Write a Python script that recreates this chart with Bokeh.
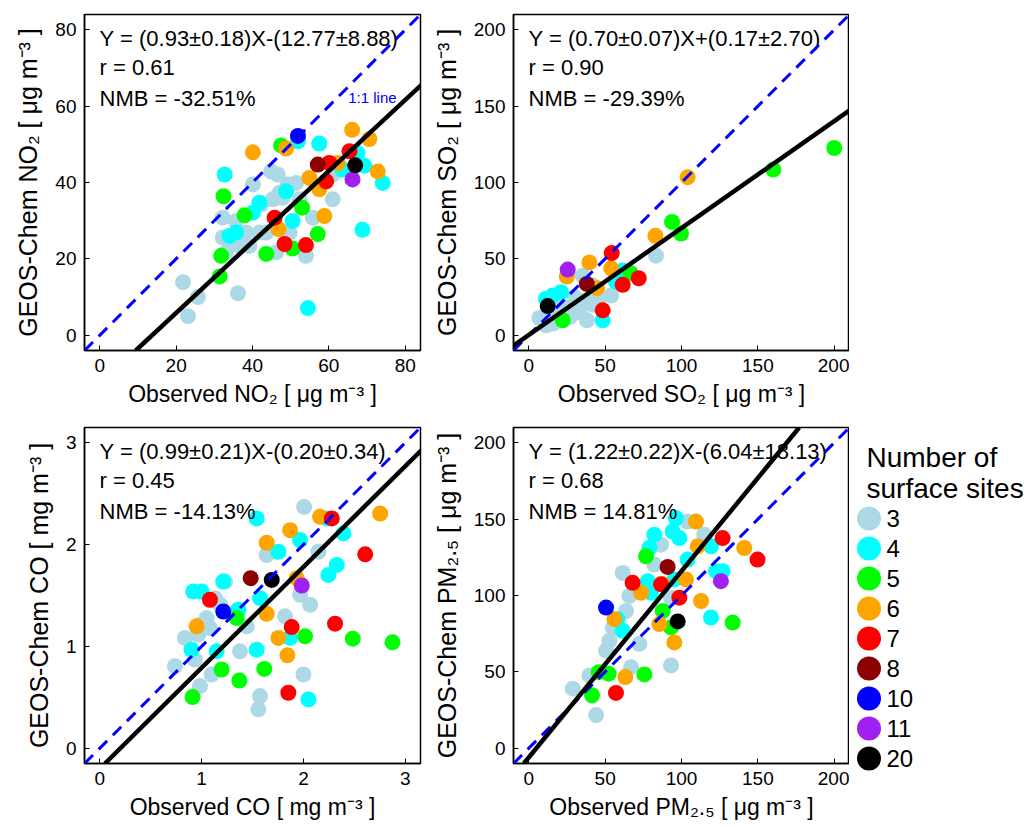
from bokeh.plotting import figure
from bokeh.models import Range1d, Slope, FixedTicker
from bokeh.layouts import row, column
from bokeh.embed import file_html
from bokeh.resources import INLINE
from bokeh.core.properties import value

FONT = "Liberation Sans"

# ---------------- legend categories ----------------
site_levels = [3, 4, 5, 6, 7, 8, 10, 11, 20]
site_colors = ["#ADD8E6", "#00FFFF", "#00FF00", "#FFA500", "#FF0000",
               "#8B0000", "#0000FF", "#A020F0", "#000000"]

# ---------------- NO2 (ug m-3) ----------------
no2_obs = [21.8, 25.7, 23.1, 36.2, 32.2, 33.1, 32.2, 35.7, 38.3, 39.2, 42.3, 43.6, 45.3, 46.2, 47.1,
           49.2, 51.4, 49.7, 54.0, 55.8, 61.0, 40.1, 44.9, 46.6, 61.0, 41.8, 36.6, 34.4, 47.9, 52.3,
           32.7, 51.9, 57.5, 67.5, 69.3, 63.6, 74.1, 68.8, 54.5, 50.5, 41.8, 40.1, 35.7, 48.8, 34.0,
           32.4, 47.5, 37.9, 53.0, 31.8, 31.4, 43.6, 50.5, 57.1,
           66.1, 70.6, 40.1, 48.8, 54.9, 57.5, 58.8, 46.8, 72.8, 62.3,
           65.4, 60.1, 45.8, 48.4, 54.0, 59.3,
           57.1, 51.9, 66.2, 66.9]
no2_mod = [13.9, 10.0, 5.0, 11.0, 25.6, 21.7, 30.8, 29.9, 26.9, 23.4, 34.3, 26.9, 35.6, 21.7, 37.3,
           39.5, 39.9, 26.9, 20.8, 30.8, 35.6, 39.5, 42.9, 42.1, 42.1, 26.9, 23.4, 25.2, 36.0, 35.6,
           42.1, 50.8, 50.2, 47.7, 44.4, 43.4, 39.9, 27.6, 7.1, 29.9, 34.7, 32.1, 26.9, 37.7, 26.0,
           36.4, 49.7, 31.4, 33.4, 20.8, 15.4, 21.3, 22.7, 26.5,
           53.8, 51.4, 47.9, 48.9, 41.2, 38.2, 31.2, 27.8, 42.9, 45.1,
           48.2, 45.1, 30.8, 23.9, 23.6, 40.3,
           44.7, 52.2, 40.8, 44.5]
no2_site = [3] * 30 + [4] * 15 + [5] * 9 + [6] * 10 + [7] * 6 + [8, 10, 11, 20]

# ---------------- SO2 (ug m-3) ----------------
so2_obs = [83.3, 7.0, 15.7, 28.8, 37.5, 33.2, 38.0, 53.9, 46.2, 35.3, 24.4, 41.9, 20.1, 11.3,
           30.0, 42.0, 18.0, 27.0,
           15.7, 21.2, 57.1, 61.5, 48.4, 11.3,
           200.0, 160.1, 93.8, 99.7, 66.5, 22.2,
           104.0, 82.9, 39.7, 53.9, 24.9, 44.7,
           54.3, 72.0, 61.5, 48.4,
           38.0, 25.5, 12.4]
so2_mod = [52.1, 11.3, 7.6, 16.3, 22.8, 15.2, 9.8, 26.0, 24.9, 39.0, 18.4, 32.5, 14.1, 6.5,
           25.0, 20.0, 20.0, 12.0,
           26.0, 28.2, 35.1, 42.3, 9.8, 23.9,
           122.6, 108.5, 74.2, 66.6, 40.8, 9.8,
           103.5, 65.1, 47.7, 43.8, 38.4, 30.8,
           53.8, 37.3, 33.0, 16.3,
           33.6, 43.0, 19.1]
so2_site = [3] * 18 + [4] * 6 + [5] * 6 + [6] * 6 + [7] * 4 + [8, 11, 20]

# ---------------- CO (mg m-3) ----------------
co_obs = [2.007, 1.639, 2.148, 1.230, 1.131, 1.967, 2.066, 1.820, 1.443, 1.180, 1.082, 0.967,
          0.836, 0.738, 0.934, 1.098, 0.984, 1.377, 2.000, 1.574, 1.557, 0.984, 1.049,
          1.541, 0.918, 1.000, 1.754, 1.967, 2.230, 2.393, 2.328, 2.246, 1.574, 1.361, 1.869,
          1.541, 1.148, 0.902, 2.049, 1.213,
          1.344, 2.016, 2.485, 2.875, 1.197, 1.371, 1.616, 0.911,
          2.164, 2.754, 1.869, 1.639, 1.934, 1.639, 1.754, 1.843, 0.951,
          2.279, 2.607, 2.311, 1.885, 1.852, 1.082,
          1.482, 1.213, 1.984, 1.689]
co_mod = [2.370, 1.898, 1.930, 1.637, 1.474, 1.507, 1.409, 1.295, 1.197, 1.409, 1.180, 1.115,
          1.083, 0.805, 0.871, 0.724, 0.610, 0.952, 0.724, 0.512, 0.382, 1.213, 1.278,
          2.257, 1.539, 1.539, 1.930, 2.045, 2.257, 2.110, 1.800, 1.702, 1.474, 1.360, 1.083,
          0.968, 0.952, 0.968, 0.479, 1.637,
          1.278, 1.099, 1.076, 1.040, 0.773, 0.665, 0.779, 0.502,
          2.273, 2.305, 2.142, 2.018, 1.670, 1.321, 1.083, 0.913, 1.197,
          2.257, 1.904, 1.223, 1.190, 0.545, 1.458,
          1.670, 1.343, 1.598, 1.653]
co_site = [3] * 23 + [4] * 17 + [5] * 8 + [6] * 9 + [7] * 6 + [8, 10, 11, 20]

# ---------------- PM2.5 (ug m-3) ----------------
pm_obs = [104.0, 114.9, 86.6, 82.2, 61.5, 65.9, 63.7, 52.8, 50.6, 72.4, 67.0, 93.1, 39.7, 28.8,
          44.1, 93.1, 55.0,
          96.4, 82.2, 94.2, 98.6, 79.0, 104.0, 119.3, 122.6, 126.9, 77.9, 80.0, 95.3, 119.3, 58.2, 61.5,
          76.8, 87.7, 93.1, 133.5, 45.8, 52.3, 75.7, 41.4,
          109.5, 110.6, 141.1, 73.5, 87.7, 102.9, 112.8, 85.5, 95.3, 63.2, 56.1,
          126.9, 149.8, 68.0, 86.6, 98.6, 57.1,
          90.9, 50.6, 125.8, 97.5]
pm_mod = [148.4, 139.8, 133.3, 120.3, 114.8, 99.7, 89.9, 70.4, 63.9, 68.3, 53.1, 54.2, 47.7, 39.0,
          21.7, 98.6, 79.1,
          150.6, 139.8, 141.9, 137.6, 131.1, 123.5, 132.2, 115.9, 115.9, 109.4, 101.8, 110.5, 85.6, 84.5, 76.9,
          125.7, 89.9, 79.1, 82.3, 49.8, 48.8, 48.3, 34.7,
          148.4, 132.2, 131.1, 101.8, 107.3, 110.5, 96.4, 81.3, 69.3, 46.6, 84.5,
          137.6, 123.5, 108.3, 107.3, 98.6, 36.2,
          118.7, 92.1, 109.4, 83.0]
pm_site = [3] * 17 + [4] * 15 + [5] * 8 + [6] * 11 + [7] * 6 + [8, 10, 11, 20]

# ---------------- fit statistics ----------------
fit_slopes = [0.93, 0.70, 0.99, 1.22]
fit_intercepts = [-12.77, 0.17, -0.20, -6.04]
fit_eqs = ["Y = (0.93\u00b10.18)X-(12.77\u00b18.88)", "Y = (0.70\u00b10.07)X+(0.17\u00b12.70)",
           "Y = (0.99\u00b10.21)X-(0.20\u00b10.34)", "Y = (1.22\u00b10.22)X-(6.04\u00b118.13)"]
fit_r = ["r = 0.61", "r = 0.90", "r = 0.45", "r = 0.68"]
fit_nmb = ["NMB = -32.51%", "NMB = -29.39%", "NMB = -14.13%", "NMB = 14.81%"]

axis_ranges = [(-4, 84), (-10, 210), (-0.15, 3.15), (-10, 210)]
axis_ticks = [[0, 20, 40, 60, 80], [0, 50, 100, 150, 200], [0, 1, 2, 3], [0, 50, 100, 150, 200]]
x_labels = ["Observed NO\u2082 [ \u03bcg m\u207b\u00b3 ]", "Observed SO\u2082 [ \u03bcg m\u207b\u00b3 ]",
            "Observed CO [ mg m\u207b\u00b3 ]", "Observed PM\u2082.\u2085 [ \u03bcg m\u207b\u00b3 ]"]
y_labels = ["GEOS-Chem NO\u2082 [ \u03bcg m\u207b\u00b3 ]", "GEOS-Chem SO\u2082 [ \u03bcg m\u207b\u00b3 ]",
            "GEOS-Chem CO [ mg m\u207b\u00b3 ]", "GEOS-Chem PM\u2082.\u2085 [ \u03bcg m\u207b\u00b3 ]"]

color_of = dict(zip(site_levels, site_colors))
FRAME = 336


def make_panel(i, obs, mod, site, borders):
    lo, hi = axis_ranges[i]
    left, right, top, bottom = borders
    p = figure(frame_width=FRAME, frame_height=FRAME, output_backend="svg", toolbar_location=None,
               x_range=Range1d(lo, hi), y_range=Range1d(lo, hi),
               min_border_left=left, min_border_right=right, min_border_top=top,
               min_border_bottom=bottom, background_fill_color="white", border_fill_color="white")
    p.grid.visible = False
    p.outline_line_color = "black"
    p.outline_line_width = 1.5
    p.outline_line_alpha = 1.0
    for ax in (p.xaxis[0], p.yaxis[0]):
        ax.ticker = FixedTicker(ticks=axis_ticks[i])
        ax.minor_tick_line_color = None
        ax.major_tick_in = 5
        ax.major_tick_out = 0
        ax.major_tick_line_color = "black"
        ax.axis_line_color = "black"
        ax.axis_line_width = 1.5
        ax.major_label_text_font = FONT
        ax.major_label_text_font_size = "19px"
        ax.major_label_text_color = "black"
        ax.axis_label_text_font = FONT
        ax.axis_label_text_font_style = "normal"
        ax.axis_label_text_color = "black"
        ax.major_label_standoff = 8
    p.xaxis.axis_label = x_labels[i]
    p.yaxis.axis_label = y_labels[i]
    p.xaxis.axis_label_text_font_size = "23px"
    p.yaxis.axis_label_text_font_size = "25px"
    p.xaxis.axis_label_standoff = 6
    p.yaxis.axis_label_standoff = 10

    p.scatter(obs, mod, size=16, fill_color=[color_of[s] for s in site], line_color=None)

    span = hi - lo
    tx = lo + 0.045 * span
    offs = [23.5, 53.0, 83.5]
    ty = [hi - d / FRAME * span for d in offs]
    p.text(x=[tx] * 3, y=ty, text=[fit_eqs[i], fit_r[i], fit_nmb[i]],
           text_font=value(FONT), text_font_size="22px", text_color="black",
           text_baseline="alphabetic", text_align="left")
    if i == 0:
        p.text(x=[lo + 0.857 * span], y=[lo + 0.753 * span], text=["1:1 line"],
               text_font=value(FONT), text_font_size="15px", text_color="#0000FF",
               text_baseline="middle", text_align="center")

    p.add_layout(Slope(gradient=1.0, y_intercept=0.0, line_color="#0000FF",
                       line_width=3, line_dash="12 8"))
    p.add_layout(Slope(gradient=fit_slopes[i], y_intercept=fit_intercepts[i],
                       line_color="black", line_width=4.5))
    return p


p1 = make_panel(0, no2_obs, no2_mod, no2_site, (84, 9, 14, 70))
p2 = make_panel(1, so2_obs, so2_mod, so2_site, (84, 0, 14, 70))
p3 = make_panel(2, co_obs, co_mod, co_site, (84, 9, 7, 67))
p4 = make_panel(3, pm_obs, pm_mod, pm_site, (84, 0, 7, 67))

# ---------------- legend panel ----------------
LW, LH = 178, 830
leg = figure(width=LW, height=LH, output_backend="svg", toolbar_location=None,
             x_range=Range1d(0, LW), y_range=Range1d(LH, 0),
             x_axis_type=None, y_axis_type=None,
             min_border=0, min_border_left=0, min_border_right=0,
             min_border_top=0, min_border_bottom=0)
leg.grid.visible = False
leg.outline_line_color = None
leg.background_fill_color = "white"
leg.border_fill_color = "white"

leg.text(x=[17, 17], y=[457, 488], text=["Number of", "surface sites"],
         text_font=value(FONT), text_font_size="28px", text_color="black",
         text_baseline="alphabetic", text_align="left")
item_y = [518 + 30 * k for k in range(len(site_levels))]
leg.scatter([19.5] * len(site_levels), item_y, size=24, fill_color=site_colors, line_color=None)
leg.text(x=[37] * len(site_levels), y=item_y, text=[str(s) for s in site_levels],
         text_font=value(FONT), text_font_size="24px", text_color="black",
         text_baseline="middle", text_align="left")

layout = row(column(p1, p3, spacing=0), column(p2, p4, spacing=0), leg, spacing=0)

open("out.html", "w").write(file_html(layout, INLINE))
